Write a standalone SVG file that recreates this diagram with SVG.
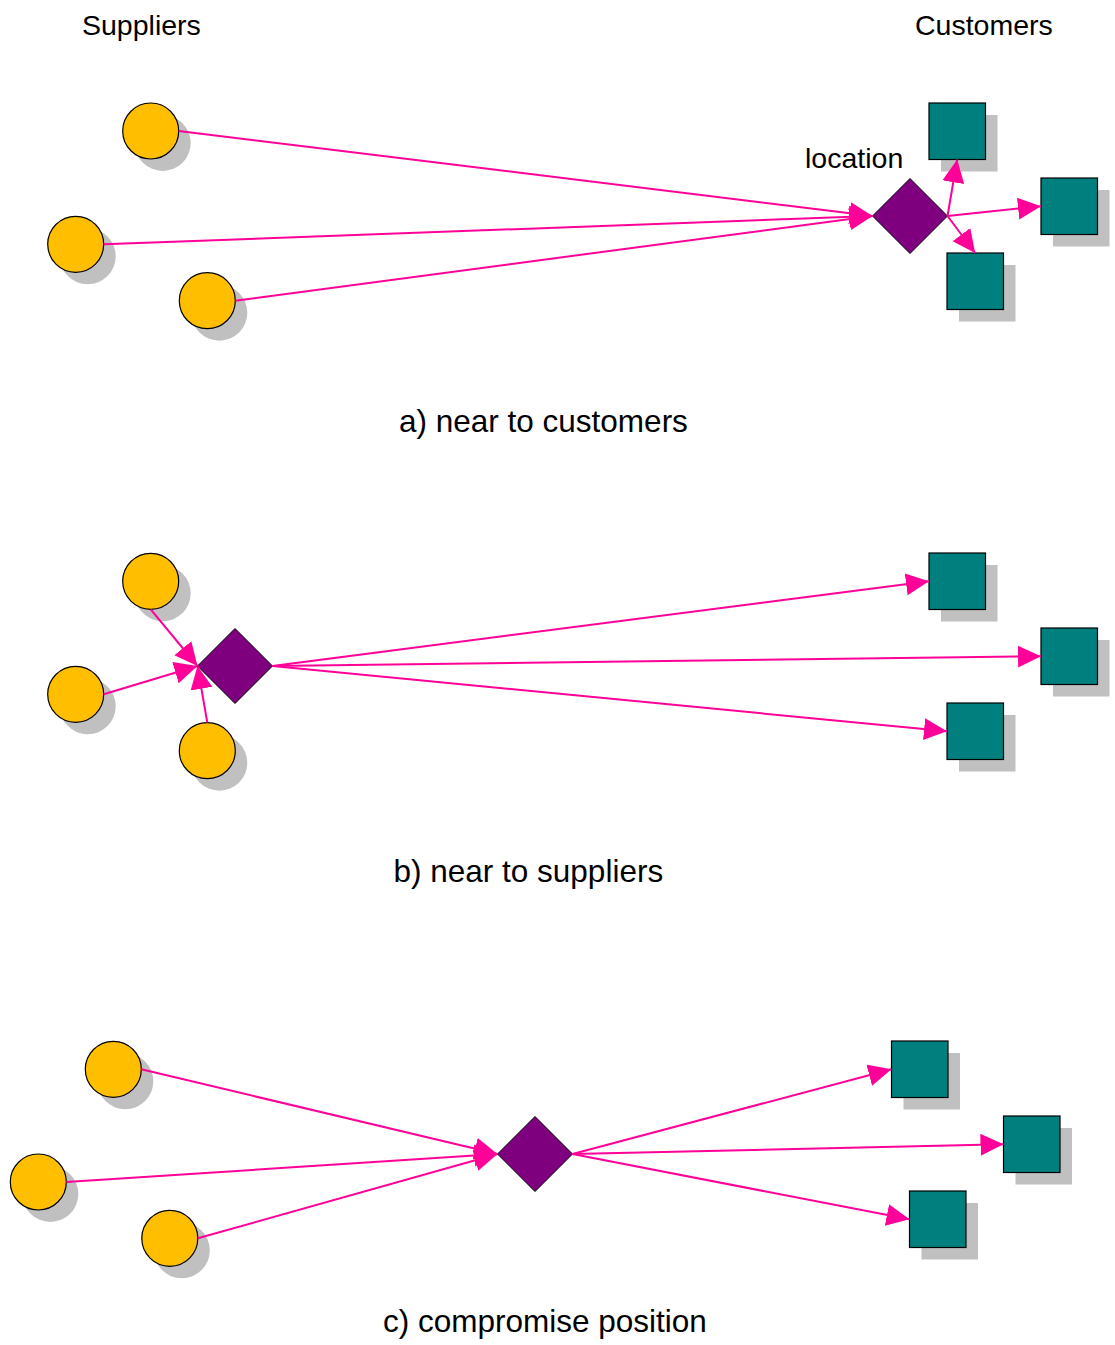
<svg xmlns="http://www.w3.org/2000/svg" width="1115" height="1345" viewBox="0 0 1115 1345">
<style>
.sup{fill:#FFBF00;stroke:#000;stroke-width:1.2}
.cus{fill:#007F7F;stroke:#000;stroke-width:1.2}
.loc{fill:#7F007F;stroke:#000;stroke-width:1}
.sh{fill:#C0C0C0}
.lbl{font-family:"Liberation Sans",Arial,sans-serif;font-size:28.5px;fill:#000}
.cap{font-family:"Liberation Sans",Arial,sans-serif;font-size:31.5px;fill:#000}
.con line{stroke:#FF0099;stroke-width:2;fill:none;marker-end:url(#ah)}
</style>
<defs>
<marker id="ah" markerUnits="userSpaceOnUse" markerWidth="24" markerHeight="24" refX="23" refY="11" orient="auto">
<path d="M0,0 L23,11 L0,22 Z" fill="#FF0099"/>
</marker>
<g id="tplC"><circle cx="12" cy="12" r="28" class="sh"/><circle cx="0" cy="0" r="28" class="sup"/></g>
<g id="tplS"><rect x="12" y="12" width="56.5" height="56.5" class="sh"/><rect x="0" y="0" width="56.5" height="56.5" class="cus"/></g>
<path id="tplD" d="M-37.5,0 L0,-37.5 L37.5,0 L0,37.5 Z" class="loc"/>
</defs>
<rect width="1115" height="1345" fill="#fff"/>
<g id="labels">
<text class="lbl" x="82" y="34.5">Suppliers</text>
<text class="lbl" x="915" y="34.5">Customers</text>
<text class="lbl" x="805" y="167.5">location</text>
<text class="cap" x="399" y="432">a) near to customers</text>
<text class="cap" x="393.5" y="882">b) near to suppliers</text>
<text class="cap" x="383" y="1332">c) compromise position</text>
</g>
<g id="a-sup1"><use href="#tplC" x="150.7" y="131"/></g>
<g id="a-sup2"><use href="#tplC" x="75.7" y="244.3"/></g>
<g id="a-sup3"><use href="#tplC" x="207.3" y="300.7"/></g>
<g id="a-cus1"><use href="#tplS" x="929" y="103"/></g>
<g id="a-cus2"><use href="#tplS" x="1041" y="178"/></g>
<g id="a-cus3"><use href="#tplS" x="947" y="253"/></g>
<g id="a-loc"><use href="#tplD" x="910" y="216"/></g>
<g id="b-sup1"><use href="#tplC" x="150.7" y="581.3"/></g>
<g id="b-sup2"><use href="#tplC" x="75.7" y="694.3"/></g>
<g id="b-sup3"><use href="#tplC" x="207.3" y="750.7"/></g>
<g id="b-cus1"><use href="#tplS" x="929" y="553"/></g>
<g id="b-cus2"><use href="#tplS" x="1041" y="628"/></g>
<g id="b-cus3"><use href="#tplS" x="947" y="703"/></g>
<g id="b-loc"><use href="#tplD" x="235" y="666"/></g>
<g id="c-sup1"><use href="#tplC" x="113.3" y="1069.3"/></g>
<g id="c-sup2"><use href="#tplC" x="38.3" y="1182"/></g>
<g id="c-sup3"><use href="#tplC" x="169.8" y="1238.3"/></g>
<g id="c-cus1"><use href="#tplS" x="891.5" y="1041"/></g>
<g id="c-cus2"><use href="#tplS" x="1003.5" y="1116"/></g>
<g id="c-cus3"><use href="#tplS" x="909.5" y="1191"/></g>
<g id="c-loc"><use href="#tplD" x="535" y="1154"/></g>
<g id="connectors" class="con">
<line x1="178.7" y1="131" x2="872.5" y2="216"/>
<line x1="103.7" y1="244.3" x2="872.5" y2="216"/>
<line x1="235.3" y1="300.7" x2="872.5" y2="216"/>
<line x1="947.5" y1="216" x2="957.2" y2="159.5"/>
<line x1="947.5" y1="216" x2="1041" y2="206.2"/>
<line x1="947.5" y1="216" x2="975.2" y2="253"/>
<line x1="150.7" y1="609.3" x2="197.5" y2="666"/>
<line x1="103.7" y1="694.3" x2="197.5" y2="666"/>
<line x1="207.3" y1="722.7" x2="197.5" y2="666"/>
<line x1="272.5" y1="666" x2="929" y2="581.3"/>
<line x1="272.5" y1="666" x2="1041" y2="656.3"/>
<line x1="272.5" y1="666" x2="947" y2="731.3"/>
<line x1="141.3" y1="1069.3" x2="497.5" y2="1154"/>
<line x1="66.3" y1="1182" x2="497.5" y2="1154"/>
<line x1="197.8" y1="1238.3" x2="497.5" y2="1154"/>
<line x1="572.5" y1="1154" x2="891.5" y2="1069.3"/>
<line x1="572.5" y1="1154" x2="1003.5" y2="1144.3"/>
<line x1="572.5" y1="1154" x2="909.5" y2="1219.3"/>
</g>
</svg>
